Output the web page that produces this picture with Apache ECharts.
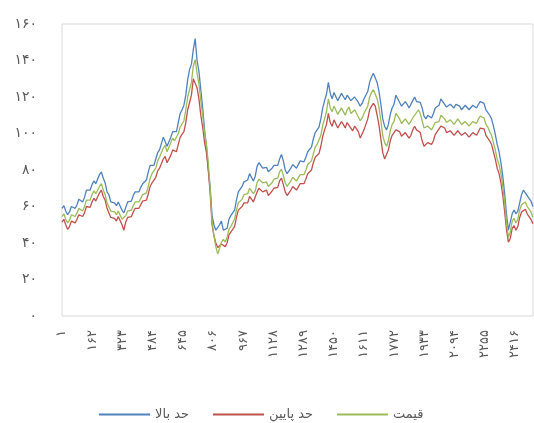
<!DOCTYPE html>
<html>
<head>
<meta charset="utf-8">
<script src="https://cdn.jsdelivr.net/npm/echarts@6/dist/echarts.min.js"></script>
<style>
  html, body { margin: 0; padding: 0; background: #fff; }
  #chart { width: 534px; height: 423px; }
</style>
</head>
<body>
<div id="chart"></div>
<script>
// day numbers on the x axis (1 .. 2512), one label every 161 days
var dayCount = 2512;
var categories = Array.from({ length: dayCount }, function (_, i) { return String(i + 1); });

// values were read every 10 days (0, 10, ... 2500) plus the last day (2511)
var sampleIdx = Array.from({ length: 251 }, function (_, i) { return i * 10; }).concat([2511]);

// قیمت
var price = [
  54.5, 56, 53, 51, 52.5, 55.5, 56, 54.5, 56.5, 59, 58.5, 57.5, 60, 63.5, 64, 63.5, 66.5, 68.5, 67, 67,
  71, 72.5, 69, 66.5, 62, 61, 57.5, 58.5, 57, 55.5, 57.5, 56.5, 53, 52, 55, 57.5, 58.5, 58, 60.5, 62.5,
  63, 62.5, 64.5, 66.5, 67, 67.5, 71, 75.5, 78, 77.5, 81, 85, 87, 86.5, 92, 93.5, 90, 89.5, 95, 97.5,
  96, 96, 100, 103.5, 104, 107, 113, 120, 124, 128, 137, 140.5, 133, 127, 118, 110, 100, 94, 84, 70,
  52, 44, 38, 34, 37, 40.5, 42, 40.5, 43, 47.5, 49, 50, 53, 58, 62, 61.5, 64, 66.5, 67, 67,
  70, 69.5, 67, 68.5, 73, 75, 75, 73, 73, 73.5, 71, 70.5, 73, 75, 75, 75.5, 79, 80.5, 77, 73,
  71, 71, 74, 76, 76, 74, 75, 77.5, 78, 77.5, 80, 83, 84, 85, 89, 92.5, 94, 95, 99, 104.5,
  108, 112, 119, 114, 112, 115, 114, 110.5, 111, 114, 112, 110, 113, 114.5, 111, 110, 113, 112.5, 109, 107,
  108.5, 111, 112, 115, 120, 122.5, 124, 123, 119, 114, 107, 99, 95, 93, 96, 101.5, 105, 106.5, 111, 110.5,
  108, 105.5, 106, 108, 107, 105, 106, 108.5, 110, 110, 113, 111, 107, 103, 102, 104, 103, 102, 104, 106,
  106, 106.5, 110, 110.5, 108, 106, 106, 107.5, 107, 105, 106, 108, 107, 105, 104.5, 106.5, 106, 104, 105, 106.5,
  106, 105.5, 108, 109.5, 110, 108.5, 105, 103.5, 101, 99, 95, 91, 86, 83, 78, 71, 62, 51, 43, 46,
  52, 53.5, 51, 53, 58, 61, 62, 62.5, 60, 59, 57, 54
];

// حد بالا
var upper = [
  59, 60.5, 57.5, 55.5, 57, 60, 60.5, 59, 61, 64, 63.5, 62.5, 65, 69, 69.5, 69, 72, 74, 72.5, 73,
  77.5, 79, 75.5, 73, 68, 66.5, 62.5, 63.5, 62, 60.5, 62.5, 61.5, 58, 56.5, 59.5, 62.5, 63.5, 63, 66, 68,
  68.5, 68, 70.5, 72.5, 73, 74.5, 79, 82.5, 83.5, 82.5, 86, 89.5, 91, 91.5, 98, 98, 93, 92.5, 98, 101,
  100, 101, 106, 111, 113, 115.5, 121, 129.5, 135, 138, 146, 152, 140, 134, 124, 114, 102, 93, 80, 70,
  55, 50, 47, 46, 50, 52, 47, 46, 48, 53, 55, 55.5, 58, 63.5, 68, 68, 71, 73.5, 74, 74.5,
  78, 77, 74, 76.5, 82, 84, 83.5, 81, 81, 81.5, 79, 78.5, 81, 82.5, 82, 82.5, 86, 88.5, 85, 80,
  78, 78, 81, 83, 83, 81, 82, 85, 85.5, 84.5, 87, 90, 91, 92.5, 97, 100.5, 102, 103.5, 108, 114,
  118, 121.5, 128, 122, 119, 122.5, 122, 118, 118, 122, 121, 118.5, 121, 122, 118, 117, 120, 120, 117, 115,
  116.5, 119, 120, 123, 128, 131, 133, 132, 128, 123, 116, 108, 104, 102, 105, 110.5, 114, 116, 121, 120,
  117, 115, 116, 117.5, 116, 114, 115, 118, 120, 117.5, 118, 117, 114, 109.5, 108, 110, 109, 108.5, 111, 114,
  115, 115.5, 119, 119, 116, 114.5, 115, 116, 115, 114, 116, 117, 115, 113, 113, 115.5, 115, 113, 114, 115.5,
  115, 114, 116, 117.5, 118, 116.5, 113, 112, 110, 108, 104, 99.5, 94, 90, 84, 76.5, 67, 55.5, 47, 46,
  56, 58, 56, 57.5, 62, 66.5, 69, 69.5, 66, 65, 63, 60
];

// حد پایین
var lower = [
  51.5, 53, 50, 47.5, 49, 52, 52.5, 51, 53, 55.5, 55.5, 54.5, 56.5, 60, 60, 59.5, 62.5, 64.5, 63, 63,
  67.5, 69, 65.5, 63.5, 59, 58, 54, 55, 53.5, 52, 54.5, 53.5, 50, 47, 51.5, 54, 55, 54.5, 57, 59,
  59.5, 59, 61, 63, 63, 63.5, 67, 71, 73, 72.5, 76, 79.5, 81, 80.5, 86, 87.5, 84, 83, 88, 91,
  90, 90, 94, 98, 99, 101, 106, 113, 117, 121, 130, 131, 125, 119, 110, 103.5, 95, 89.5, 80, 67,
  50, 44, 40, 37.5, 38, 39.5, 39, 38, 40, 44.5, 46, 46.5, 49, 54, 58, 57.5, 60, 62, 62, 62,
  65.5, 65, 62.5, 63.5, 68, 70, 70, 68, 68.5, 69, 66, 65.5, 68.5, 70, 70, 70.5, 74, 75.5, 72, 68,
  66, 66, 69, 71, 71, 69, 70, 72.5, 73, 72.5, 75, 78, 79, 80, 84, 87, 88, 89, 93, 98.5,
  102, 105, 111, 106, 104, 107.5, 107, 103, 103, 106.5, 105, 103, 106, 107, 103, 101.5, 104, 104, 101, 97.5,
  98, 102, 105, 108, 113, 115, 116.5, 115, 110, 104.5, 97, 89.5, 86, 86, 91, 96, 99, 99, 102, 102.5,
  101, 98.5, 99, 100.5, 99, 97.5, 99, 102, 104, 102, 103, 100.5, 96, 93, 93, 95, 94.5, 94, 96, 99.5,
  101, 101, 104, 105, 103, 100.5, 100, 101.5, 101, 99, 99.5, 101.5, 101, 99, 98.5, 100.5, 100, 98, 99, 100.5,
  100, 99, 101, 103, 104, 102.5, 99, 98, 96, 94, 90, 86, 81, 78, 73, 66, 57, 47, 40.5, 42.5,
  48, 49.5, 47, 49, 54, 57, 58, 58.5, 56, 55, 53, 50.5
];

var seriesNames = ['حد بالا', 'حد پایین', 'قیمت'];
var seriesColors = ['#4F81BD', '#C0504D', '#9BBB59'];

function faDigits(v) {
  return String(v).replace(/\d/g, function (d) { return '۰۱۲۳۴۵۶۷۸۹'[d]; });
}

function pairs(values) {
  return sampleIdx.map(function (ix, k) { return [ix, values[k]]; });
}

var chart = echarts.init(document.getElementById('chart'));

var option = {
  animation: false,
  textStyle: { fontFamily: 'DejaVu Sans' },
  grid: {
    left: 62, right: 1, top: 24, bottom: 107,
    show: true, borderColor: '#d9d9d9', borderWidth: 1
  },
  legend: {
    data: seriesNames,
    left: 94, top: 403,
    icon: 'rect',
    itemWidth: 51, itemHeight: 2, itemGap: 24,
    textStyle: { color: '#595959', fontSize: 13, fontFamily: 'DejaVu Sans' }
  },
  xAxis: {
    type: 'category',
    data: categories,
    boundaryGap: false,
    axisLine: { show: false },
    axisTick: { show: false },
    splitLine: { show: false },
    axisLabel: {
      interval: 160,
      rotate: 90,
      margin: 14,
      color: '#595959',
      fontSize: 13,
      formatter: faDigits
    }
  },
  yAxis: {
    type: 'value',
    min: 0, max: 160, interval: 20,
    axisLine: { show: false },
    axisTick: { show: false },
    splitLine: { show: false },
    axisLabel: {
      margin: 25,
      color: '#595959',
      fontSize: 14,
      formatter: faDigits
    }
  },
  series: [
    { name: seriesNames[0], type: 'line', data: pairs(upper) },
    { name: seriesNames[1], type: 'line', data: pairs(lower) },
    { name: seriesNames[2], type: 'line', data: pairs(price) }
  ].map(function (s, i) {
    s.symbol = 'none';
    s.color = seriesColors[i];
    s.lineStyle = { width: 1.3, color: seriesColors[i] };
    return s;
  })
};

chart.setOption(option);
</script>
</body>
</html>
